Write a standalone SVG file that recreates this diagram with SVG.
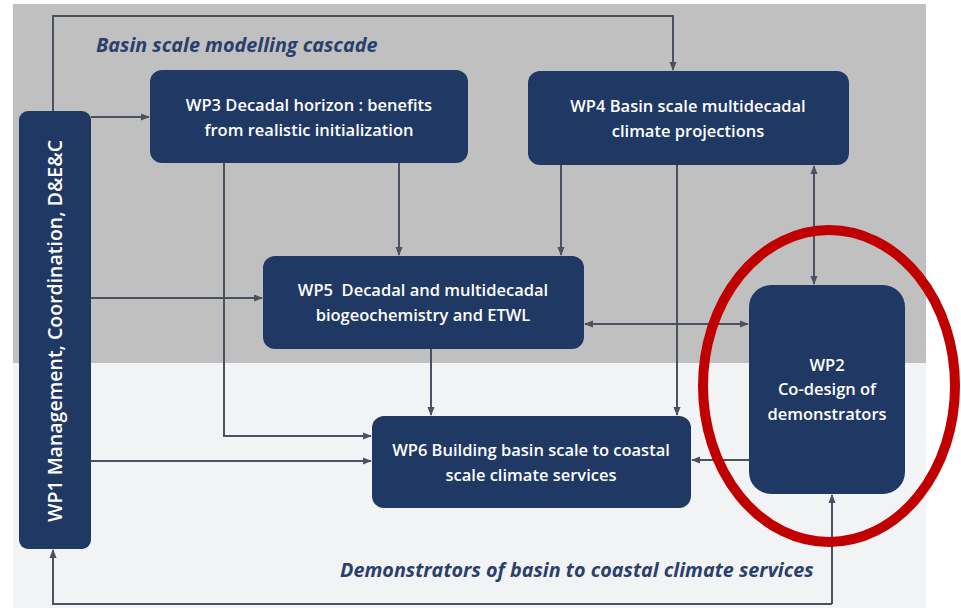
<svg xmlns="http://www.w3.org/2000/svg" width="961" height="610" viewBox="0 0 961 610">
<defs>
<marker id="ah" viewBox="0 0 10 10" refX="9" refY="5" markerWidth="9" markerHeight="9" orient="auto-start-reverse" markerUnits="userSpaceOnUse">
<path d="M0,1 L10,5 L0,9 z" fill="#4a5262"/>
</marker>
</defs>
<style>
.box{fill:#1f3864;}
.bt{fill:#ffffff;font-family:"Open Sans","Liberation Sans",sans-serif;font-size:16.5px;font-weight:600;text-anchor:middle;}
.title{fill:#2a3f6b;font-family:"Open Sans","Liberation Sans",sans-serif;font-size:19.8px;font-weight:bold;font-style:italic;}
.c{fill:none;stroke:#4a5262;stroke-width:2;}
.ce{fill:none;stroke:#4a5262;stroke-width:2;marker-end:url(#ah);}
.cb{fill:none;stroke:#4a5262;stroke-width:2;marker-end:url(#ah);marker-start:url(#ah);}
</style>
<rect x="0" y="0" width="961" height="610" fill="#ffffff"/>
<rect x="13" y="4" width="913" height="359" fill="#c0c0c0"/>
<rect x="13" y="363" width="913" height="245" fill="#f2f3f5"/>
<g id="titles">
<text class="title" x="96" y="52">Basin scale modelling cascade</text>
<text class="title" x="340" y="577">Demonstrators of basin to coastal climate services</text>
</g>
<g id="connectors">
<path class="ce" d="M53,111 V16 H673 V70"/>
<path class="ce" d="M91,117 H149"/>
<path class="ce" d="M224,163 V436 H371"/>
<path class="ce" d="M399,163 V255"/>
<path class="ce" d="M561,165 V255"/>
<path class="ce" d="M677,165 V415"/>
<path class="cb" d="M814,166 V284"/>
<path class="ce" d="M91,298 H262"/>
<path class="cb" d="M585,324 H748"/>
<path class="ce" d="M431,349 V415"/>
<path class="ce" d="M91,461 H371"/>
<path class="ce" d="M749,460 H692"/>
<path class="ce" d="M832,604 H53 V550"/>
<path class="ce" d="M832,604 V495"/>
</g>
<g id="WP1">
<rect class="box" x="19" y="111" width="72" height="438" rx="9"/>
<text class="bt" transform="translate(62,331) rotate(-90)" style="font-size:19.5px">WP1 Management, Coordination, D&amp;E&amp;C</text>
</g>
<g id="WP3">
<rect class="box" x="150" y="70" width="318" height="93" rx="12"/>
<text class="bt" x="309" y="111">WP3 Decadal horizon : benefits</text>
<text class="bt" x="309" y="136">from realistic initialization</text>
</g>
<g id="WP4">
<rect class="box" x="528" y="71" width="321" height="94" rx="12"/>
<text class="bt" x="688" y="112">WP4 Basin scale multidecadal</text>
<text class="bt" x="688" y="137">climate projections</text>
</g>
<g id="WP5">
<rect class="box" x="263" y="256" width="321" height="93" rx="12"/>
<text class="bt" x="423" y="296" xml:space="preserve">WP5  Decadal and multidecadal</text>
<text class="bt" x="423" y="321">biogeochemistry and ETWL</text>
</g>
<g id="WP6">
<rect class="box" x="372" y="416" width="319" height="92" rx="12"/>
<text class="bt" x="531" y="456">WP6 Building basin scale to coastal</text>
<text class="bt" x="531" y="481">scale climate services</text>
</g>
<g id="WP2">
<rect class="box" x="749" y="285" width="156" height="209" rx="22"/>
<text class="bt" x="827" y="371">WP2</text>
<text class="bt" x="827" y="395">Co-design of</text>
<text class="bt" x="827" y="420">demonstrators</text>
</g>
<ellipse cx="829" cy="386" rx="126" ry="156" fill="none" stroke="#c00000" stroke-width="10"/>
</svg>
